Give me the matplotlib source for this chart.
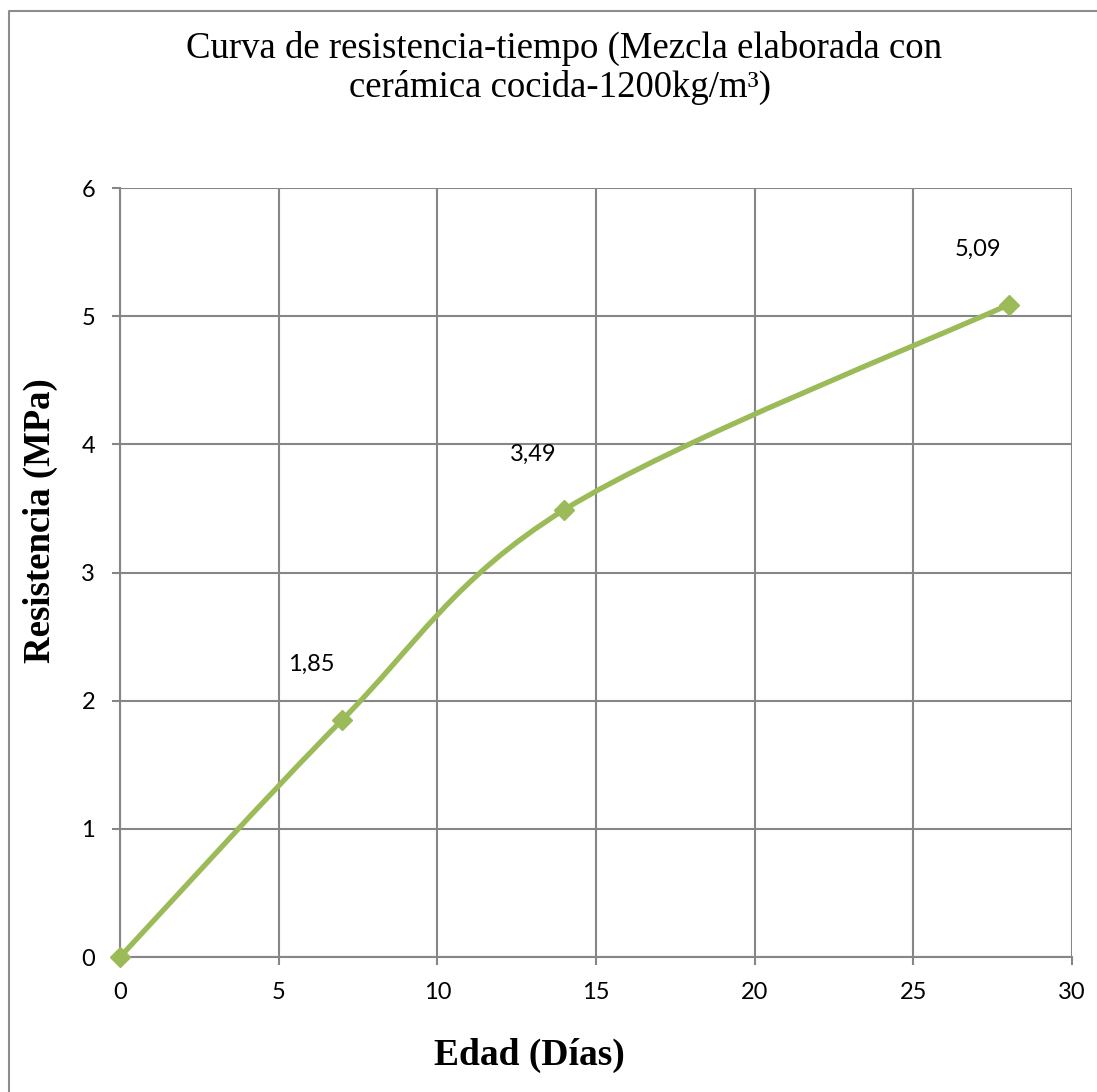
import matplotlib
matplotlib.use("Agg")
import matplotlib.pyplot as plt
from matplotlib.path import Path
from matplotlib.patches import PathPatch
from matplotlib.lines import Line2D

# data
edad = [0, 7, 14, 28]
resistencia = [0, 1.85, 3.49, 5.09]
etiquetas = ["", "1,85", "3,49", "5,09"]

titulo = ["Curva de resistencia-tiempo (Mezcla elaborada con",
          "cerámica cocida-1200kg/m³)"]

verde = "#9BBB59"
gris = "#868686"
serif = "Liberation Serif"
sans = "Lato"


def smooth_path(xs, ys):
    # Excel-like smoothed line: cubic bezier between neighbours
    pts = list(zip(xs, ys))
    n = len(pts)
    verts = [pts[0]]
    codes = [Path.MOVETO]
    for i in range(n - 1):
        p0 = pts[i - 1] if i > 0 else pts[i]
        p1 = pts[i]
        p2 = pts[i + 1]
        p3 = pts[i + 2] if i + 2 < n else pts[i + 1]
        c1 = (p1[0] + (p2[0] - p0[0]) / 6, p1[1] + (p2[1] - p0[1]) / 6)
        c2 = (p2[0] - (p3[0] - p1[0]) / 6, p2[1] - (p3[1] - p1[1]) / 6)
        verts += [c1, c2, p2]
        codes += [Path.CURVE4] * 3
    return Path(verts, codes)


fig = plt.figure(figsize=(10.97, 10.92), dpi=100)
ax = fig.add_axes([0.1094, 0.1236, 0.8678, 0.7042])

ax.set_xlim(0, 30)
ax.set_ylim(0, 6)
ax.set_xticks(range(0, 31, 5))
ax.set_yticks(range(0, 7))
ax.grid(True, color=gris, linewidth=1.5)
ax.set_axisbelow(True)
for side in ["top", "right"]:
    ax.spines[side].set_visible(False)
for side in ["left", "bottom"]:
    ax.spines[side].set_color(gris)
    ax.spines[side].set_linewidth(1.5)
ax.tick_params(direction="out", length=6, width=1.5, color=gris,
               labelsize=17, pad=12)
for lab in ax.get_xticklabels() + ax.get_yticklabels():
    lab.set_fontfamily(sans)

ax.add_patch(PathPatch(smooth_path(edad, resistencia), facecolor="none",
                       edgecolor=verde, linewidth=3.8, capstyle="round",
                       zorder=3))
ax.plot(edad, resistencia, linestyle="none", marker="D", markersize=10,
        color=verde, zorder=4, clip_on=False)

for x, y, t in zip(edad, resistencia, etiquetas):
    if t:
        ax.annotate(t, (x, y), xytext=(-22, 40), textcoords="offset points",
                    ha="center", va="center", fontsize=17, fontfamily=sans)

fig.text(564 / 1097, 1 - 58 / 1092, titulo[0], ha="center", va="baseline",
         fontsize=26.5, fontfamily=serif)
fig.text(560 / 1097, 1 - 97 / 1092, titulo[1], ha="center", va="baseline",
         fontsize=26.5, fontfamily=serif)
fig.text(40 / 1097, 1 - 521 / 1092, "Resistencia (MPa)", rotation=90,
         ha="center", va="center", fontsize=26.5, fontweight="bold",
         fontfamily=serif)
fig.text(529 / 1097, 1 - 1055 / 1092, "Edad (Días)", ha="center", va="center",
         fontsize=27, fontweight="bold", fontfamily=serif)

# chart frame (only top and left edges are visible)
fig.add_artist(Line2D([9 / 1097, 9 / 1097, 1], [0, 1 - 11 / 1092, 1 - 11 / 1092],
                      transform=fig.transFigure, color="#8c8c8c", linewidth=1.5))

fig.savefig("out.png", dpi=100)
